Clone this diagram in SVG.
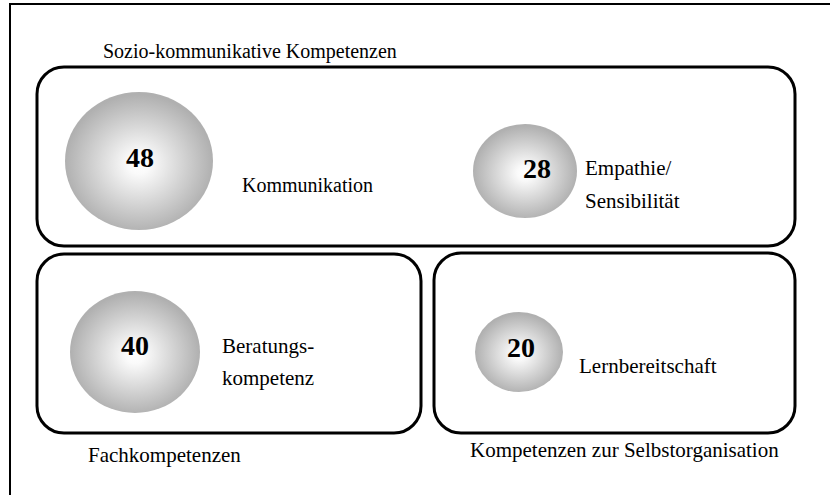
<svg xmlns="http://www.w3.org/2000/svg" width="830" height="495" viewBox="0 0 830 495">
<defs>
<radialGradient id="ball" cx="50%" cy="52%" r="50%">
<stop offset="0" stop-color="#ffffff"/>
<stop offset="0.15" stop-color="#fafafa"/>
<stop offset="1" stop-color="#b0b0b0"/>
</radialGradient>
</defs>
<style>
.box{fill:none;stroke:#000;stroke-width:3}
.ball{fill:url(#ball)}
.num{font-family:"Liberation Serif","Times New Roman",serif;font-weight:bold;font-size:28px;fill:#000;text-anchor:middle}
.lbl{font-family:"Liberation Serif","Times New Roman",serif;font-size:21px;fill:#000}
</style>
<rect x="0" y="0" width="830" height="495" fill="#fff"/>
<path d="M10,495 V4 H830" fill="none" stroke="#000" stroke-width="2"/>
<g id="sozio">
<rect class="box" x="37" y="67" width="758" height="179" rx="27" ry="27"/>
<text class="lbl" x="103" y="58" style="font-size:20px">Sozio-kommunikative Kompetenzen</text>
</g>
<g id="fach">
<rect class="box" x="37" y="254" width="384" height="179" rx="27" ry="27"/>
<text class="lbl" x="88" y="462">Fachkompetenzen</text>
</g>
<g id="selbst">
<rect class="box" x="434" y="253" width="361" height="180" rx="27" ry="27"/>
<text class="lbl" x="470" y="457">Kompetenzen zur Selbstorganisation</text>
</g>
<g id="kommunikation">
<ellipse class="ball" cx="139" cy="161" rx="74" ry="69"/>
<text class="num" x="140" y="167">48</text>
<text class="lbl" x="242" y="192" style="font-size:20px">Kommunikation</text>
</g>
<g id="empathie">
<ellipse class="ball" cx="525" cy="171" rx="52" ry="47"/>
<text class="num" x="537" y="178">28</text>
<text class="lbl" x="585" y="175">Empathie/</text>
<text class="lbl" x="585" y="208">Sensibilität</text>
</g>
<g id="beratung">
<ellipse class="ball" cx="135" cy="352" rx="65" ry="61"/>
<text class="num" x="135" y="355">40</text>
<text class="lbl" x="222" y="353">Beratungs-</text>
<text class="lbl" x="222" y="385">kompetenz</text>
</g>
<g id="lernbereitschaft">
<ellipse class="ball" cx="519" cy="352" rx="44" ry="40"/>
<text class="num" x="521" y="357">20</text>
<text class="lbl" x="579" y="373">Lernbereitschaft</text>
</g>
<g id="connectors"/>
</svg>
